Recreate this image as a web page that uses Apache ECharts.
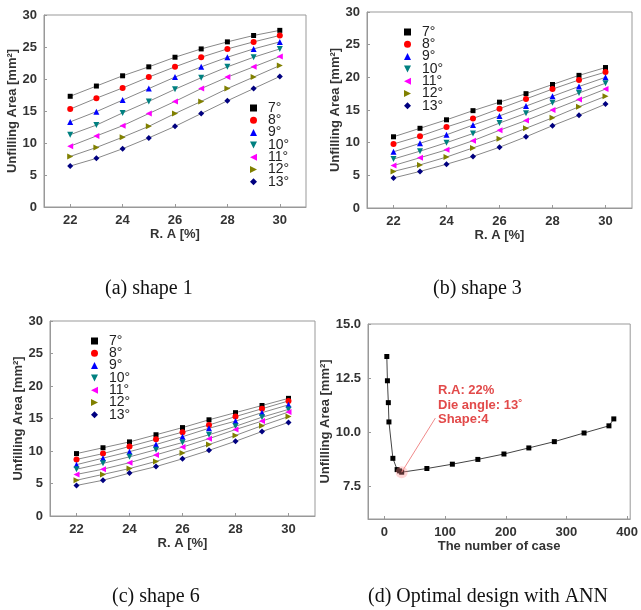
<!DOCTYPE html>
<html>
<head>
<meta charset="utf-8">
<script src="https://cdn.jsdelivr.net/npm/echarts@6/dist/echarts.min.js"></script>
<style>
  html, body { margin: 0; padding: 0; background: #fff; }
  #main { width: 641px; height: 610px; }
</style>
</head>
<body>
<div id="main"></div>
<script>
// R.A [%] values shared by panels a, b, c
var ra = [22, 23, 24, 25, 26, 27, 28, 29, 30];
var angles = ['7°', '8°', '9°', '10°', '11°', '12°', '13°'];

// (a) shape 1
var shape1 = [
  [17.3, 18.9, 20.5, 21.9, 23.4, 24.7, 25.8, 26.8, 27.6],
  [15.3, 17.0, 18.6, 20.3, 21.9, 23.4, 24.7, 25.8, 26.8],
  [13.3, 14.9, 16.7, 18.5, 20.3, 21.9, 23.4, 24.7, 25.8],
  [11.3, 12.8, 14.7, 16.5, 18.4, 20.2, 21.9, 23.4, 24.7],
  [9.5, 11.1, 12.7, 14.6, 16.5, 18.5, 20.3, 21.9, 23.5],
  [7.9, 9.3, 10.9, 12.6, 14.6, 16.5, 18.5, 20.3, 22.1],
  [6.4, 7.6, 9.1, 10.8, 12.6, 14.6, 16.6, 18.5, 20.4]
];
// (b) shape 3
var shape3 = [
  [10.9, 12.2, 13.5, 14.9, 16.2, 17.5, 18.9, 20.3, 21.5],
  [9.8, 11.0, 12.4, 13.7, 15.2, 16.7, 18.2, 19.6, 20.8],
  [8.6, 9.9, 11.2, 12.7, 14.1, 15.6, 17.1, 18.6, 20.0],
  [7.5, 8.7, 10.0, 11.4, 13.0, 14.5, 16.1, 17.6, 19.1],
  [6.5, 7.7, 8.9, 10.3, 11.9, 13.4, 15.0, 16.6, 18.2],
  [5.6, 6.6, 7.8, 9.2, 10.6, 12.2, 13.8, 15.5, 17.1],
  [4.6, 5.6, 6.7, 7.9, 9.3, 10.9, 12.6, 14.2, 15.9]
];
// (c) shape 6
var shape6 = [
  [9.6, 10.5, 11.4, 12.5, 13.6, 14.8, 15.9, 17.0, 18.1],
  [8.7, 9.6, 10.7, 11.8, 12.9, 14.0, 15.3, 16.5, 17.7],
  [7.9, 8.9, 9.9, 11.0, 12.2, 13.5, 14.6, 15.9, 17.1],
  [7.2, 8.1, 9.1, 10.2, 11.3, 12.5, 13.8, 15.2, 16.4],
  [6.4, 7.2, 8.2, 9.4, 10.6, 11.9, 13.3, 14.6, 16.0],
  [5.5, 6.4, 7.3, 8.4, 9.7, 11.0, 12.4, 13.9, 15.3],
  [4.7, 5.5, 6.6, 7.6, 8.8, 10.1, 11.5, 13.0, 14.4]
];
// (d) optimal design with ANN
var caseNo = [4, 5, 6.5, 7.5, 14, 21, 25, 28.5, 70, 112, 154, 197, 238, 280, 329, 370, 378];
var annArea = [13.5, 12.38, 11.37, 10.48, 8.8, 8.28, 8.22, 8.16, 8.33, 8.53, 8.75, 9.0, 9.28, 9.57, 9.97, 10.3, 10.62];

var colors = ['#000000', '#ff0000', '#0000ff', '#008080', '#ff00ff', '#808000', '#000080'];
var symbols = [
  'rect',
  'circle',
  'triangle',
  'path://M0,0 L10,0 L5,10 Z',
  'path://M10,0 L10,10 L0,5 Z',
  'path://M0,0 L10,5 L0,10 Z',
  'diamond'
];

var myChart = echarts.init(document.getElementById('main'));

var labelFont = { fontFamily: 'Liberation Sans, Arial', fontWeight: 'bold', fontSize: 13, color: '#333' };
var nameFont = { fontFamily: 'Liberation Sans, Arial', fontWeight: 'bold', fontSize: 13, color: '#333' };

function xAxisRA(idx) {
  return {
    gridIndex: idx, type: 'value', min: 21, max: 31,
    name: 'R. A [%]', nameLocation: 'middle', nameGap: 20, nameTextStyle: nameFont,
    axisLine: { onZero: false, lineStyle: { color: '#999' } },
    axisTick: { inside: true, length: 3, customValues: [22, 24, 26, 28, 30], lineStyle: { color: '#999' } },
    axisLabel: Object.assign({ customValues: [22, 24, 26, 28, 30], margin: 7 }, labelFont),
    splitLine: { show: false }
  };
}
function yAxisArea(idx) {
  return {
    gridIndex: idx, type: 'value', min: 0, max: 30, interval: 5,
    name: 'Unfilling Area [mm²]', nameLocation: 'middle', nameGap: 24, nameTextStyle: nameFont,
    axisLine: { show: true, onZero: false, lineStyle: { color: '#999' } },
    axisTick: { show: true, inside: true, length: 3, lineStyle: { color: '#999' } },
    axisLabel: Object.assign({ margin: 7 }, labelFont),
    splitLine: { show: false }
  };
}

function legendAt(left, top) {
  return {
    orient: 'vertical', left: left, top: top, padding: 0,
    itemWidth: 7, itemHeight: 7, itemGap: -1.7,
    textStyle: { fontFamily: 'Liberation Sans, Arial', fontSize: 14, color: '#222', padding: [0, 0, 0, 6] },
    data: angles.map(function (a, i) {
      return { name: a, icon: symbols[i], itemStyle: { color: colors[i] } };
    })
  };
}

var series = [];
[shape1, shape3, shape6].forEach(function (set, g) {
  set.forEach(function (vals, i) {
    series.push({
      name: angles[i], type: 'line', xAxisIndex: g, yAxisIndex: g,
      data: vals.map(function (v, k) { return [ra[k], v]; }),
      symbol: symbols[i], symbolSize: i === 0 ? 5 : 6,
      itemStyle: { color: colors[i] },
      lineStyle: { color: '#888', width: 1 },
      emphasis: { disabled: true }
    });
  });
});

series.push({
  name: 'ANN', type: 'line', xAxisIndex: 3, yAxisIndex: 3,
  data: caseNo.map(function (c, k) { return [c, annArea[k]]; }),
  symbol: 'rect', symbolSize: 5,
  itemStyle: { color: '#000' },
  lineStyle: { color: '#444', width: 1 },
  markPoint: {
    symbol: 'circle', symbolSize: 12, silent: true,
    itemStyle: { color: 'rgba(255,140,140,0.35)' },
    label: { show: false },
    data: [{ coord: [28.5, 8.16] }]
  },
  markLine: {
    symbol: ['none', 'none'], silent: true,
    lineStyle: { color: '#f08a8a', width: 1, type: 'solid' },
    label: { show: false },
    data: [[{ coord: [28.5, 8.16] }, { coord: [84, 10.66] }]]
  }
});

var option = {
  animation: false,
  grid: [
    { left: 44, top: 15, width: 262, height: 192, show: true, borderColor: '#999', borderWidth: 1 },
    { left: 367, top: 12, width: 265, height: 196, show: true, borderColor: '#999', borderWidth: 1 },
    { left: 50, top: 321, width: 265, height: 195, show: true, borderColor: '#999', borderWidth: 1 },
    { left: 368, top: 324, width: 267, height: 195, show: true, borderColor: '#999', borderWidth: 1 }
  ],
  xAxis: [
    xAxisRA(0), xAxisRA(1), xAxisRA(2),
    {
      gridIndex: 3, type: 'value', min: -27, max: 405,
      name: 'The number of case', nameLocation: 'middle', nameGap: 21, nameTextStyle: nameFont,
      axisLine: { onZero: false, lineStyle: { color: '#999' } },
      axisTick: { inside: true, length: 3, customValues: [0, 100, 200, 300, 400], lineStyle: { color: '#999' } },
      axisLabel: Object.assign({ customValues: [0, 100, 200, 300, 400], margin: 7 }, labelFont),
      splitLine: { show: false }
    }
  ],
  yAxis: [
    yAxisArea(0), yAxisArea(1), yAxisArea(2),
    {
      gridIndex: 3, type: 'value', min: 6, max: 15,
      name: 'Unfilling Area [mm²]', nameLocation: 'middle', nameGap: 34, nameTextStyle: nameFont,
      axisLine: { show: true, onZero: false, lineStyle: { color: '#999' } },
      axisTick: { show: true, inside: true, length: 3, customValues: [7.5, 10, 12.5, 15], lineStyle: { color: '#999' } },
      axisLabel: Object.assign({
        customValues: [7.5, 10, 12.5, 15], margin: 7,
        formatter: function (v) { return v.toFixed(1); }
      }, labelFont),
      splitLine: { show: false }
    }
  ],
  legend: [legendAt(250, 101), legendAt(404, 25), legendAt(91, 334)],
  series: series,
  graphic: [
    { type: 'text', left: 438, top: 383, style: {
      text: 'R.A: 22%\nDie angle: 13˚\nShape:4', fill: '#e24a4a',
      font: 'bold 13px "Liberation Sans", Arial', lineHeight: 14.7 } },
    { type: 'text', left: 105, top: 279, style: { text: '(a) shape 1', fill: '#111', font: '20px "Liberation Serif", "Times New Roman"' } },
    { type: 'text', left: 433, top: 279, style: { text: '(b) shape 3', fill: '#111', font: '20px "Liberation Serif", "Times New Roman"' } },
    { type: 'text', left: 112, top: 587, style: { text: '(c) shape 6', fill: '#111', font: '20px "Liberation Serif", "Times New Roman"' } },
    { type: 'text', left: 368, top: 587, style: { text: '(d) Optimal design with ANN', fill: '#111', font: '20px "Liberation Serif", "Times New Roman"' } }
  ]
};

myChart.setOption(option);
</script>
</body>
</html>
